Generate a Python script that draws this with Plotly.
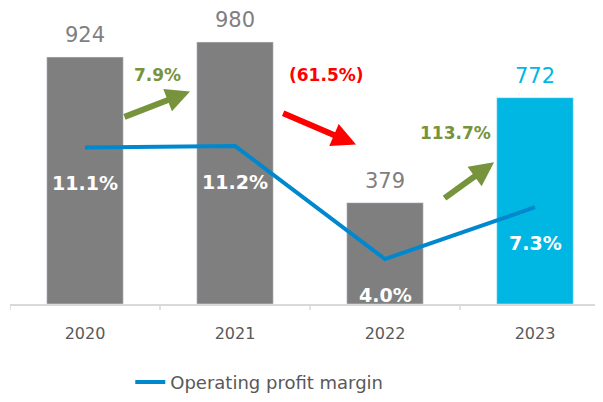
import plotly.graph_objects as go

years = ["2020", "2021", "2022", "2023"]
profit = [924, 980, 379, 772]
margin = [11.1, 11.2, 4.0, 7.3]
margin_labels = ["11.1%", "11.2%", "4.0%", "7.3%"]
bar_colors = ["#7F7F7F", "#7F7F7F", "#7F7F7F", "#00B7E3"]
bar_label_colors = ["#7F7F7F", "#7F7F7F", "#7F7F7F", "#00B7E3"]
growth_labels = ["7.9%", "(61.5%)", "113.7%"]
growth_colors = ["#77933C", "#FF0000", "#77933C"]

FONT = "DejaVu Sans"
xi = list(range(len(years)))

fig = go.Figure()
fig.add_trace(go.Bar(x=xi, y=profit, marker_color=bar_colors, width=0.51,
                     showlegend=False, hoverinfo="skip"))
fig.add_trace(go.Scatter(x=xi, y=margin, yaxis="y2", mode="lines",
                         line=dict(color="#0088CF", width=4),
                         name="Operating profit margin"))

ann = []
for i, v in enumerate(profit):
    ann.append(dict(x=i, y=v, xref="x", yref="y", text=str(v), showarrow=False,
                    yanchor="bottom", yshift=8,
                    font=dict(family=FONT, size=21, color=bar_label_colors[i])))
for i, v in enumerate(margin):
    ann.append(dict(x=i, y=v, xref="x", yref="y2", text="<b>%s</b>" % margin_labels[i],
                    showarrow=False, yanchor="middle", yshift=-36,
                    font=dict(family=FONT, size=19, color="white")))

# growth arrows (tail -> head, in data coordinates)
arrows = [((0.253, 698), (0.70, 795)),
          ((1.311, 716), (1.807, 597)),
          ((2.387, 392), (2.727, 530))]
label_pos = [(0.48, 855), (1.61, 855), (2.47, 640)]
for k, ((tx, ty), (hx, hy)) in enumerate(arrows):
    ann.append(dict(x=hx, y=hy, ax=tx, ay=ty, xref="x", yref="y", axref="x", ayref="y",
                    text="", showarrow=True, arrowhead=2, arrowsize=0.8, arrowwidth=6,
                    arrowcolor=growth_colors[k]))
    lx, ly = label_pos[k]
    ann.append(dict(x=lx, y=ly, xref="x", yref="y", text="<b>%s</b>" % growth_labels[k],
                    showarrow=False, font=dict(family=FONT, size=17, color=growth_colors[k])))

fig.update_layout(
    width=595, height=394,
    margin=dict(l=2, r=2, t=2, b=97),
    paper_bgcolor="white", plot_bgcolor="white",
    xaxis=dict(range=[-0.5, 3.44], tickmode="array", tickvals=xi, ticktext=years,
               showgrid=False, zeroline=False, showline=True, linecolor="#D9D9D9", linewidth=1.5,
               ticks="", ticklabelstandoff=14,
               tickfont=dict(family=FONT, size=16, color="#595959")),
    yaxis=dict(range=[0, 1100], visible=False, showgrid=False, fixedrange=True),
    yaxis2=dict(range=[1.14, 19.85], overlaying="y", visible=False, showgrid=False),
    legend=dict(orientation="h", x=0.2035, y=-0.262, xanchor="left", yanchor="middle",
                font=dict(family=FONT, size=18, color="#595959")),
    annotations=ann,
)

# tick marks at category boundaries
for b in [-0.5, 0.5, 1.5, 2.5]:
    fig.add_shape(type="line", xref="x", yref="paper", x0=b, x1=b, y0=0, y1=-0.02,
                  line=dict(color="#D9D9D9", width=1.5))

fig.write_html("out.html")
